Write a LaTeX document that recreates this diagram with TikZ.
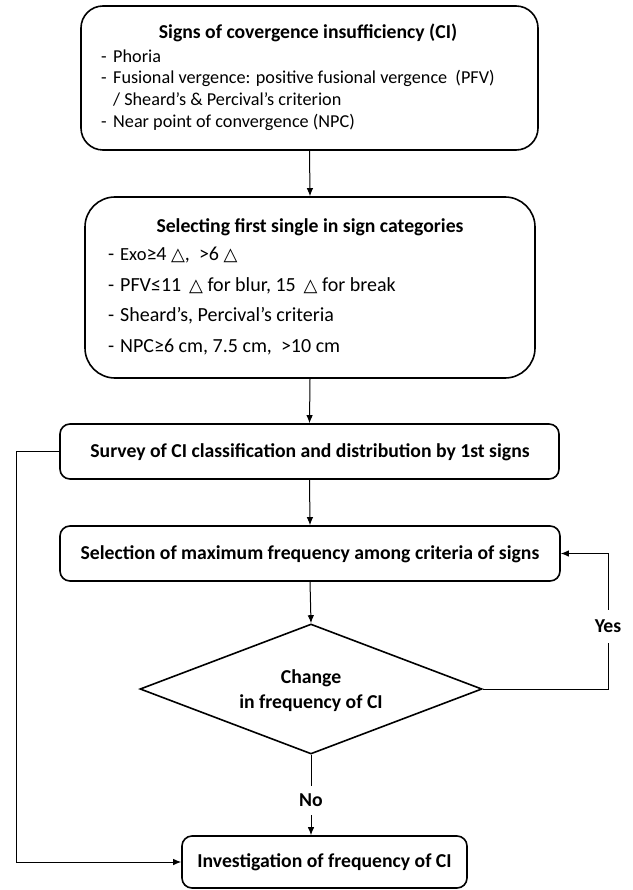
\documentclass[tikz,border=0pt]{standalone}
\usepackage{fontspec}
\setmainfont{Carlito}
\newfontfamily\symfont{DejaVu Sans}
\usetikzlibrary{shapes.geometric,arrows.meta}
\newcommand{\tri}{{\symfont\fontsize{18}{18}\selectfont △}}
\begin{document}
\begin{tikzpicture}[x=1pt,y=-1pt,
  box/.style={draw, line width=1.6pt, rounded corners=#1, inner sep=0pt},
  btxt/.style={font=\fontsize{19.7}{22}\selectfont\bfseries, inner sep=0pt},
  itemA/.style={font=\fontsize{18.2}{20}\selectfont, inner sep=0pt, anchor=west, text height=12.8pt, text depth=4.1pt},
  itemB/.style={font=\fontsize{20}{22}\selectfont, inner sep=0pt, anchor=west, text height=14pt, text depth=4.5pt},
  conn/.style={line width=1pt},
  arr/.style={conn, -{Latex[length=8pt,width=6.5pt]}},
  lbl/.style={btxt, fill=white, inner xsep=2pt}
]
\useasboundingbox (0,0) rectangle (632,890);

% boxes
\node[box=22pt, minimum width=457pt, minimum height=144pt] (b1) at (309.5,78) {};
\node[box=30pt, minimum width=450pt, minimum height=181pt] (b2) at (310,287.5) {};
\node[box=10pt, minimum width=499pt, minimum height=55pt] (sv) at (309.5,451.5) {};
\node[box=10pt, minimum width=500pt, minimum height=55pt] (sel) at (310,553.5) {};
\node[draw, line width=1.6pt, diamond, inner sep=0pt, minimum width=342pt, minimum height=130pt] (dia) at (311,689) {};
\node[box=10pt, minimum width=285pt, minimum height=52pt] (inv) at (324.5,862) {};

% box 1 text
\node[btxt] (t1) at (308,33) {Signs of covergence insufficiency (CI)};
\node[itemA] (d11) at (101,58) {-};
\node[itemA] (i11) at (113,58) {Phoria};
\node[itemA] (d12) at (101,79) {-};
\node[itemA] (i12) at (113,79) {Fusional vergence: positive fusional vergence\ \ (PFV)};
\node[itemA] (i13) at (113,101) {/ Sheard's \& Percival's criterion};
\node[itemA] (d14) at (101,123) {-};
\node[itemA] (i14) at (113,123) {Near point of convergence (NPC)};

% box 2 text
\node[btxt] (t2) at (310,227) {Selecting first single in sign categories};
\node[itemB] (d21) at (108,256) {-};
\node[itemB] (i21) at (120,256) {{\fontsize{18.5}{20}\selectfont Exo}≥4 \tri,\ \ >6 \tri};
\node[itemB] (d22) at (108,287) {-};
\node[itemB] (i22) at (120,287) {PFV≤11\ \,\tri\ for blur, 15\ \,\tri\ for break};
\node[itemB] (d23) at (108,317) {-};
\node[itemB] (i23) at (120,317) {Sheard's, Percival's criteria};
\node[itemB] (d24) at (108,348) {-};
\node[itemB] (i24) at (120,348) {NPC≥6 cm, 7.5 cm,\ \ >10 cm};

% single-line boxes
\node[btxt] (tsv) at (310,452) {Survey of CI classification and distribution by 1st signs};
\node[btxt] (tsel) at (310,554) {Selection of maximum frequency among criteria of signs};
\node[btxt] (td1) at (311,678) {Change};
\node[btxt] (td2) at (311,703) {in frequency of CI};
\node[btxt] (tinv) at (324.5,862) {Investigation of frequency of CI};

% connectors
\draw[arr] (b1.south) -- (b2.north);
\draw[arr] (b2.south) -- (sv.north);
\draw[arr] (sv.south) -- (sel.north);
\draw[arr] (sel.south) -- (dia.north);
\coordinate (yc) at (608,689);
\coordinate (yt) at (608,553.5);
\draw[arr] (dia.east) -- (yc) -- node[lbl, pos=0.46, inner ysep=10pt] (yes) {Yes} (yt) -- (sel.east);
\draw[arr] (dia.south) -- node[lbl, pos=0.57, inner ysep=8pt] (no) {No} (dia.south |- inv.north);
\coordinate (lc1) at (16,451.5);
\coordinate (lc2) at (16,862);
\draw[arr] (sv.west) -- (lc1) -- (lc2) -- (inv.west);
\end{tikzpicture}
\end{document}
